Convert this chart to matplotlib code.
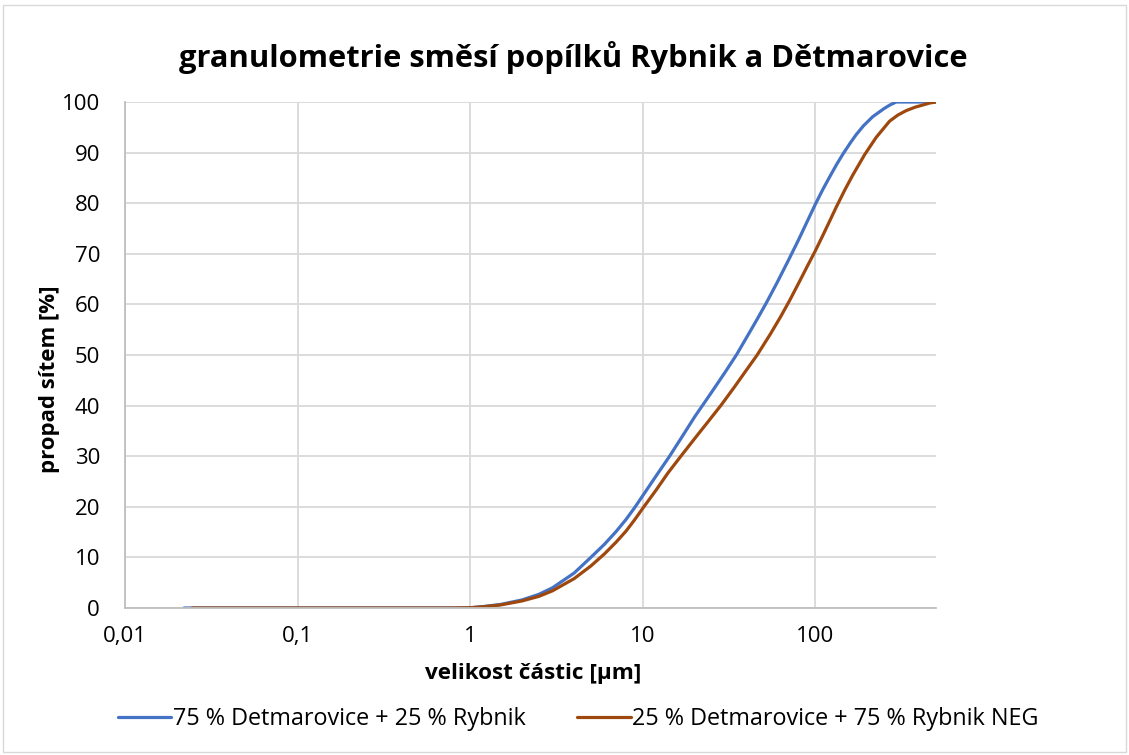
import matplotlib
matplotlib.use("Agg")
import matplotlib.pyplot as plt
from matplotlib.patches import Rectangle

# particle size [µm] and passing [%]
size_blue = [0.022, 0.05, 0.1, 0.2, 0.5, 0.8, 1.0, 1.2, 1.5, 2.0, 2.5, 3.0, 4.0, 5.0, 6.0, 7.0, 8.0, 9.0,
             10, 12, 14.3, 17, 20, 25, 30, 35, 40, 45, 52, 60, 70, 80, 90, 100, 110, 121, 133, 145, 160, 172,
             190, 215, 250, 270, 294, 350, 400, 500]
pass_blue = [0, 0, 0, 0, 0, 0, 0.05, 0.3, 0.7, 1.6, 2.7, 4.0, 6.9, 10.0, 12.6, 15.1, 17.5, 19.9,
             22.2, 26.2, 30.0, 34.0, 37.8, 42.6, 46.6, 50.1, 53.5, 56.5, 60.3, 64.3, 68.8, 72.8, 76.5, 79.8, 82.6, 85.2, 87.7, 89.8, 92.0, 93.5,
             95.3, 97.1, 98.7, 99.4, 100, 100, 100, 100]

size_brown = [0.0245, 0.05, 0.1, 0.2, 0.5, 0.8, 1.0, 1.2, 1.5, 2.0, 2.5, 3.0, 4.0, 5.0, 6.0, 7.0, 8.0, 9.0,
              10, 12, 14, 16.8, 20, 24, 28.6, 34, 40, 46, 55, 63, 71, 80, 90, 100, 110, 120, 132, 148, 165,
              193, 225, 269, 300, 336, 380, 419, 460, 500]
pass_brown = [0, 0, 0, 0, 0, 0, 0.05, 0.25, 0.6, 1.4, 2.3, 3.4, 5.8, 8.3, 10.7, 13.0, 15.2, 17.5,
              19.7, 23.4, 26.7, 30.2, 33.5, 36.9, 40.2, 43.7, 47.1, 50.0, 54.2, 57.6, 60.8, 64.2, 67.6, 70.6, 73.5, 76.2, 79.2, 82.6, 85.6,
              89.6, 93.0, 96.2, 97.4, 98.3, 99.0, 99.4, 99.8, 100]

label_blue = "75 % Detmarovice + 25 % Rybnik"
label_brown = "25 % Detmarovice + 75 % Rybnik NEG"
title = "granulometrie směsí popílků Rybnik a Dětmarovice"
xlabel = "velikost částic [µm]"
ylabel = "propad sítem [%]"
xticks = [0.01, 0.1, 1, 10, 100]
xticklabels = ["0,01", "0,1", "1", "10", "100"]
yticks = list(range(0, 101, 10))

plt.rcParams['font.family'] = ['Open Sans', 'DejaVu Sans']

fig = plt.figure(figsize=(11.29, 7.55), dpi=100)
ax = fig.add_axes([125/1129, 1 - 608/755, (936-125)/1129, (608-102)/755])

ax.plot(size_blue, pass_blue, color="#4472C4", lw=2.3, label=label_blue, solid_capstyle='round', solid_joinstyle='round')
ax.plot(size_brown, pass_brown, color="#9E480E", lw=2.3, label=label_brown, solid_capstyle='round', solid_joinstyle='round')

ax.set_xscale('log')
ax.set_xlim(0.01, 500)
ax.set_ylim(0, 100)
ax.set_xticks(xticks)
ax.set_xticklabels(xticklabels)
ax.xaxis.set_minor_locator(matplotlib.ticker.NullLocator())
ax.set_yticks(yticks)
ax.tick_params(axis='both', length=0, labelsize=16, colors="#000000")
ax.tick_params(axis='y', pad=18)
ax.tick_params(axis='x', pad=13)
ax.grid(True, color="#d9d9d9", lw=1.3)
ax.set_axisbelow(True)
for s in ['top', 'right']:
    ax.spines[s].set_visible(False)
for s in ['left', 'bottom']:
    ax.spines[s].set_color("#bfbfbf")
    ax.spines[s].set_linewidth(1.3)

ax.set_xlabel(xlabel, fontsize=16.2, fontweight='bold', va='center')
ax.xaxis.set_label_coords((533-125)/811, (608-673)/506)
ax.set_ylabel(ylabel, fontsize=16, fontweight='bold', va='center')
ax.yaxis.set_label_coords((50-125)/811, (608-379)/506)
fig.text(573/1129, 1 - 58/755, title, fontsize=22.2, fontweight='bold', ha='center', va='center')

fig.legend(loc='center', bbox_to_anchor=(578/1129, 1 - 719/755), ncol=2, frameon=False,
           fontsize=16.8, handlelength=2.3, columnspacing=2.2, handletextpad=0.05)

fig.add_artist(Rectangle((3/1129, 3/755), 1 - 6/1129, 1 - 8/755, transform=fig.transFigure,
                         fill=False, edgecolor="#d9d9d9", lw=1))

fig.savefig("out.png", dpi=100)
